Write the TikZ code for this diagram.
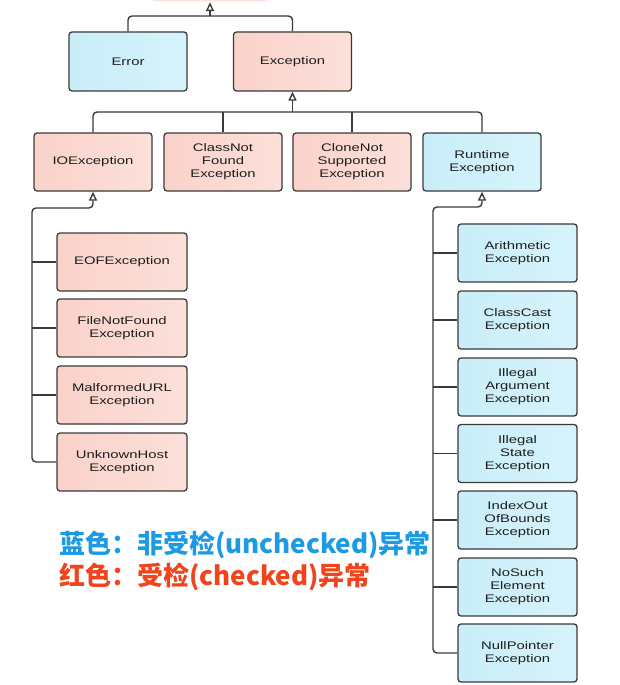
\documentclass[tikz,border=0pt]{standalone}
\usepackage{fontspec}
\setmainfont{Liberation Sans}[FakeStretch=1.35]
\newfontfamily\cjkfont{Noto Sans CJK SC}
\usetikzlibrary{arrows.meta}
\definecolor{boxline}{HTML}{3A3A3A}
\definecolor{pinkL}{HTML}{FAD2CA}
\definecolor{pinkR}{HTML}{FCE0DA}
\definecolor{blueL}{HTML}{C9EEF9}
\definecolor{blueR}{HTML}{D6F3FB}
\definecolor{txt}{HTML}{1E1E1E}
\definecolor{legblue}{HTML}{1C9BE2}
\definecolor{legred}{HTML}{F0441C}
\tikzset{
  cls/.style={draw=boxline, line width=1.3pt, rounded corners=3pt, align=center,
    text=txt, font=\fontsize{11}{13}\selectfont, inner sep=0pt},
  topbox/.style={cls, minimum width=118pt, minimum height=59pt},
  subio/.style={cls, minimum width=130pt, minimum height=58pt},
  subrt/.style={cls, minimum width=119pt, minimum height=58pt},
  checked/.style={left color=pinkL, right color=pinkR},
  unchecked/.style={left color=blueL, right color=blueR},
  conn/.style={draw=boxline, line width=1.4pt, rounded corners=4pt},
  inh/.style={conn, -{Triangle[open, length=9pt, width=8pt, fill=white]}},
  legend/.style={anchor=west, inner sep=0pt, font=\cjkfont\bfseries\fontsize{26}{29}\selectfont}
}
\begin{document}
\begin{tikzpicture}[x=1pt, y=-1pt]
\useasboundingbox (0,0) rectangle (620,685);
% top (cut off) parent
\node[topbox, draw=none, fill=pinkR, minimum width=116pt] (thr) at (210,-28) {};
% level 1
\node[topbox, unchecked] (err) at (128,61.5) {Error};
\node[topbox, checked] (exc) at (292.5,61.5) {Exception};
% level 2
\node[topbox, checked, minimum height=58pt] (io) at (93,162) {IOException};
\node[topbox, checked, minimum height=58pt] (cnf) at (223,162) {ClassNot\\Found\\Exception};
\node[topbox, checked, minimum height=58pt] (cns) at (352,162) {CloneNot\\Supported\\Exception};
\node[topbox, unchecked, minimum height=58pt] (rt) at (482,162) {Runtime\\Exception};
% IO children
\node[subio, checked] (eof) at (122,262) {EOFException};
\node[subio, checked] (fnf) at (122,328) {FileNotFound\\Exception};
\node[subio, checked] (mal) at (122,395) {MalformedURL\\Exception};
\node[subio, checked] (uh)  at (122,462) {UnknownHost\\Exception};
% Runtime children
\node[subrt, unchecked] (ari) at (517.5,253) {Arithmetic\\Exception};
\node[subrt, unchecked] (cce) at (517.5,320) {ClassCast\\Exception};
\node[subrt, unchecked] (iae) at (517.5,387) {Illegal\\Argument\\Exception};
\node[subrt, unchecked] (ise) at (517.5,453.5) {Illegal\\State\\Exception};
\node[subrt, unchecked] (ioob) at (517.5,520) {IndexOut\\OfBounds\\Exception};
\node[subrt, unchecked] (nse) at (517.5,587) {NoSuch\\Element\\Exception};
\node[subrt, unchecked] (npe) at (517.5,653) {NullPointer\\Exception};
% connectors: level 1 -> top
\coordinate (topbus) at (210,16);
\draw[conn] (err.north) |- (topbus) -| (exc.north);
\draw[inh] (topbus) -- (thr.south);
% level 2 -> Exception
\coordinate (excbus) at (292.5,112);
\draw[conn] (io.north) |- (excbus) -| (rt.north);
\draw[conn] (cnf.north) -- (cnf.north |- excbus);
\draw[conn] (cns.north) -- (cns.north |- excbus);
\draw[inh] (excbus) -- (exc.south);
% IO subtree
\coordinate (iobus) at (32,208);
\draw[inh] (uh.west) -| (iobus) -| (io.south);
\draw[conn] (eof.west) -- (eof.west -| iobus);
\draw[conn] (fnf.west) -- (fnf.west -| iobus);
\draw[conn] (mal.west) -- (mal.west -| iobus);
% Runtime subtree
\coordinate (rtbus) at (433,207);
\draw[inh] (npe.west) -| (rtbus) -| (rt.south);
\foreach \n in {ari,cce,iae,ise,ioob,nse}
  \draw[conn] (\n.west) -- (\n.west -| rtbus);
% legend
\node[legend, text=legblue] (leg1) at (59,545) {蓝色：非受检(unchecked)异常};
\node[legend, text=legred] (leg2) at (59,577) {红色：受检(checked)异常};
\end{tikzpicture}
\end{document}
